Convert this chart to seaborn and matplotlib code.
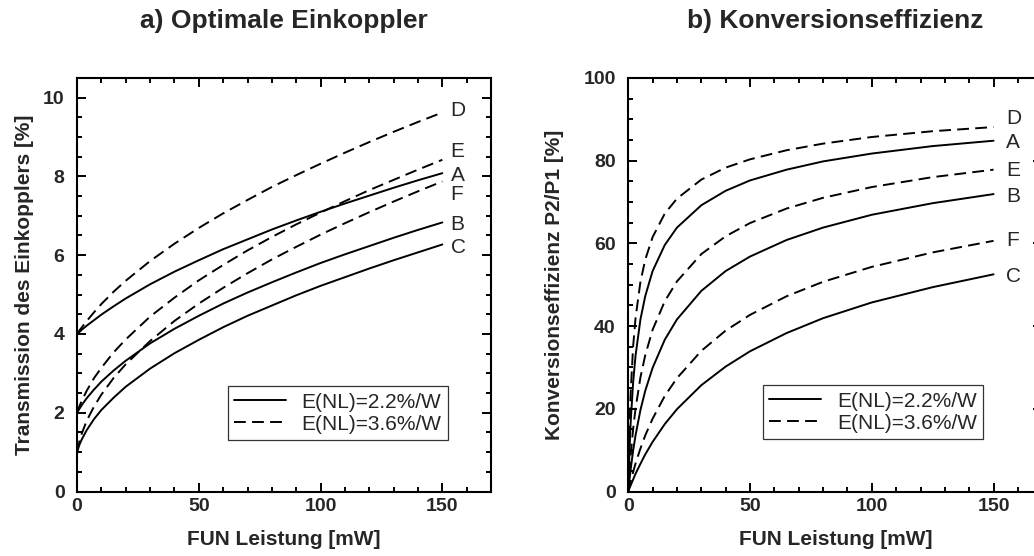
import matplotlib
matplotlib.use("Agg")
import matplotlib.pyplot as plt
import seaborn as sns
import pandas as pd
from matplotlib.lines import Line2D
from matplotlib.ticker import MultipleLocator

# a) optimum input coupler transmission [%] vs. fundamental power [mW]
power_t = [0, 1, 2, 4, 7, 10, 15, 20, 30, 40, 50, 60, 70, 80, 90, 100, 110, 120, 130, 140, 150]
trans_A = [4.00, 4.05, 4.11, 4.21, 4.35, 4.49, 4.70, 4.90, 5.26, 5.58, 5.87, 6.15, 6.40, 6.65, 6.88, 7.10, 7.31, 7.51, 7.71, 7.90, 8.08]
trans_B = [2.00, 2.10, 2.20, 2.37, 2.59, 2.79, 3.07, 3.32, 3.76, 4.13, 4.46, 4.77, 5.05, 5.31, 5.56, 5.80, 6.02, 6.23, 6.44, 6.64, 6.83]
trans_C = [1.00, 1.19, 1.33, 1.56, 1.84, 2.07, 2.38, 2.66, 3.12, 3.51, 3.85, 4.17, 4.46, 4.72, 4.98, 5.22, 5.44, 5.66, 5.87, 6.07, 6.27]
trans_D = [4.00, 4.09, 4.17, 4.33, 4.55, 4.76, 5.07, 5.35, 5.85, 6.29, 6.69, 7.06, 7.40, 7.73, 8.03, 8.32, 8.60, 8.87, 9.13, 9.38, 9.62]
trans_E = [2.00, 2.17, 2.31, 2.56, 2.88, 3.14, 3.53, 3.86, 4.44, 4.92, 5.36, 5.75, 6.12, 6.46, 6.78, 7.08, 7.37, 7.65, 7.91, 8.17, 8.42]
trans_F = [1.00, 1.28, 1.48, 1.80, 2.16, 2.46, 2.88, 3.23, 3.82, 4.33, 4.77, 5.17, 5.54, 5.89, 6.21, 6.52, 6.81, 7.09, 7.36, 7.62, 7.87]

# b) conversion efficiency P2/P1 [%]
power_e = [0, 0.5, 1, 2, 3, 5, 7, 10, 15, 20, 30, 40, 50, 65, 80, 100, 125, 150]
eff_A = [0, 9.9, 16.8, 26.4, 32.9, 41.6, 47.3, 53.3, 59.6, 63.8, 69.2, 72.7, 75.2, 77.8, 79.8, 81.7, 83.5, 84.8]
eff_B = [0, 2.9, 5.4, 9.9, 13.6, 19.7, 24.4, 29.9, 36.7, 41.6, 48.5, 53.3, 56.8, 60.8, 63.8, 66.9, 69.7, 71.9]
eff_C = [0, 0.8, 1.5, 2.9, 4.3, 6.7, 9.0, 12.0, 16.3, 19.9, 25.7, 30.2, 33.9, 38.3, 41.9, 45.7, 49.4, 52.5]
eff_D = [0, 15.0, 24.0, 35.1, 42.0, 50.7, 56.1, 61.5, 67.2, 70.8, 75.4, 78.3, 80.3, 82.5, 84.1, 85.7, 87.1, 88.1]
eff_E = [0, 4.8, 8.8, 15.1, 20.1, 27.6, 33.0, 39.1, 46.0, 50.8, 57.4, 61.7, 64.9, 68.4, 71.0, 73.6, 76.0, 77.8]
eff_F = [0, 1.3, 2.5, 4.7, 6.8, 10.4, 13.6, 17.6, 23.1, 27.4, 34.0, 38.9, 42.7, 47.2, 50.7, 54.3, 57.8, 60.6]

curve_names = ["A", "B", "C", "D", "E", "F"]
curve_enl = ["2.2", "2.2", "2.2", "3.6", "3.6", "3.6"]
legend_labels = ["E(NL)=2.2%/W", "E(NL)=3.6%/W"]

# where the curve letters sit (y, in data units)
label_y_t = {"D": 9.67, "E": 8.63, "A": 8.01, "F": 7.53, "B": 6.79, "C": 6.19}
label_y_e = {"D": 90.2, "A": 84.3, "E": 77.7, "B": 71.3, "F": 60.6, "C": 51.9}


def long_frame(x, series):
    rows = []
    for name, enl, ys in zip(curve_names, curve_enl, series):
        for xv, yv in zip(x, ys):
            rows.append({"P": xv, "val": yv, "curve": name, "enl": enl})
    return pd.DataFrame(rows)


df_t = long_frame(power_t, [trans_A, trans_B, trans_C, trans_D, trans_E, trans_F])
df_e = long_frame(power_e, [eff_A, eff_B, eff_C, eff_D, eff_E, eff_F])

sns.set_theme(style="ticks")
plt.rcParams["font.family"] = ["Liberation Sans", "DejaVu Sans"]
plt.rcParams["lines.scale_dashes"] = False

fig = plt.figure(figsize=(10.34, 5.56), dpi=100)
ax1 = fig.add_axes([0.0745, 0.116, 0.4004, 0.744])
ax2 = fig.add_axes([0.6076, 0.116, 0.4004, 0.744])

pal = {n: "black" for n in curve_names}
dash = {"2.2": "", "3.6": (8.5, 4.5)}


def panel(ax, df, ylim, ymajor, yminor, title, ylabel, label_y, label_x):
    sns.lineplot(data=df, x="P", y="val", hue="curve", style="enl", palette=pal,
                 dashes=dash, estimator=None, sort=False, lw=1.4, legend=False, ax=ax)
    ax.set_xlim(0, 170)
    ax.set_ylim(*ylim)
    ax.xaxis.set_major_locator(MultipleLocator(50))
    ax.xaxis.set_minor_locator(MultipleLocator(10))
    ax.yaxis.set_major_locator(MultipleLocator(ymajor))
    ax.yaxis.set_minor_locator(MultipleLocator(yminor))
    ax.tick_params(which="both", direction="in", top=True, right=True, width=1.4, color="black")
    ax.tick_params(which="major", length=6.3)
    ax.tick_params(which="minor", length=3.6)
    ax.tick_params(axis="y", pad=9)
    ax.tick_params(axis="x", pad=5)
    for lab in ax.get_xticklabels() + ax.get_yticklabels():
        lab.set_fontsize(14)
        lab.set_fontweight("bold")
    for sp in ax.spines.values():
        sp.set_linewidth(1.5)
        sp.set_color("black")
    ax.set_title(title, fontsize=19, fontweight="bold", pad=36)
    ax.set_xlabel("FUN Leistung [mW]", fontsize=15, fontweight="bold")
    ax.set_ylabel(ylabel, fontsize=15, fontweight="bold")
    ax.xaxis.set_label_coords(0.5, -0.094)
    for name, yv in label_y.items():
        ax.text(label_x, yv, name, fontsize=15, ha="left", va="center")
    handles = [Line2D([], [], color="black", lw=1.4),
               Line2D([], [], color="black", lw=1.4, dashes=(8.5, 4.5))]
    return handles


def add_legend(ax, handles, anchor):
    leg = ax.legend(handles, legend_labels, loc="lower right", bbox_to_anchor=anchor,
                    fontsize=15, frameon=True, fancybox=False, edgecolor="black",
                    handlelength=2.5, handletextpad=0.75, borderpad=0.3, labelspacing=0.15,
                    borderaxespad=0)
    leg.get_frame().set_linewidth(0.9)


h = panel(ax1, df_t, (0, 10.5), 2, 0.5, "a) Optimale Einkoppler",
          "Transmission des Einkopplers [%]", label_y_t, 153.4)
ax1.yaxis.set_label_coords(-0.105, 0.5)
add_legend(ax1, h, (0.896, 0.1245))

h = panel(ax2, df_e, (0, 100), 20, 5, "b) Konversionseffizienz",
          "Konversionseffizienz P2/P1 [%]", label_y_e, 155.2)
ax2.yaxis.set_label_coords(-0.155, 0.5)
add_legend(ax2, h, (0.857, 0.127))

fig.savefig("out.png", dpi=100)
